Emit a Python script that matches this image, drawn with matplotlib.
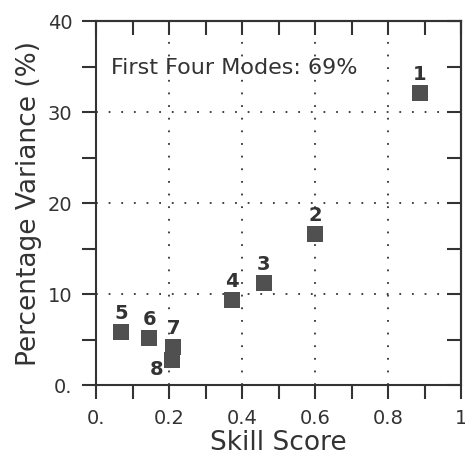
import matplotlib
matplotlib.use("Agg")
import matplotlib.pyplot as plt
from matplotlib.ticker import MultipleLocator

plt.rcParams['font.family'] = ['DejaVu Sans']

# data
skill = [0.888, 0.600, 0.460, 0.372, 0.068, 0.146, 0.212, 0.209]
variance = [32.1, 16.6, 11.2, 9.3, 5.8, 5.2, 4.2, 2.7]
mode_labels = ['1', '2', '3', '4', '5', '6', '7', '8']
x_ticks = [0.0, 0.2, 0.4, 0.6, 0.8, 1.0]
x_ticklabels = ['0.', '0.2', '0.4', '0.6', '0.8', '1']
y_ticks = [0, 10, 20, 30, 40]
y_ticklabels = ['0.', '10', '20', '30', '40']
note = 'First Four Modes: 69%'

ink = '#333333'
fig = plt.figure(figsize=(4.65, 4.57), dpi=100)
ax = fig.add_axes([0.2065, 0.1575, 0.7849, 0.7965])

ax.scatter(skill, variance, marker='s', s=125, color='#505050', zorder=3, linewidths=0)
for x, y, lab in zip(skill, variance, mode_labels):
    if lab == '8':
        ax.annotate(lab, (x, y), xytext=(-11.5, -6.5), textcoords='offset points',
                    ha='center', va='center', fontsize=14, fontweight='bold', color=ink)
    else:
        ax.annotate(lab, (x, y), xytext=(0, 6.5), textcoords='offset points',
                    ha='center', va='bottom', fontsize=14, fontweight='bold', color=ink)

ax.text(0.04, 34.8, note, fontsize=16, color=ink, va='center')

ax.set_xlim(0, 1)
ax.set_ylim(0, 40)
ax.set_xticks(x_ticks)
ax.set_xticklabels(x_ticklabels)
ax.set_yticks(y_ticks)
ax.set_yticklabels(y_ticklabels)
ax.xaxis.set_minor_locator(MultipleLocator(0.1))
ax.yaxis.set_minor_locator(MultipleLocator(5))

for v in [0.2, 0.4, 0.6, 0.8]:
    ax.axvline(v, color=ink, linestyle=(0, (1, 6)), linewidth=1.3, zorder=1)
for v in [10, 20, 30]:
    ax.axhline(v, color=ink, linestyle=(0, (1, 6)), linewidth=1.3, zorder=1)

ax.tick_params(which='both', direction='out', length=10, width=1.5, color=ink,
               labelsize=14, labelcolor=ink, pad=7)
ax2 = ax.secondary_xaxis('top')
ax2.set_xticks([0.1 * i for i in range(11)])
ax2.tick_params(direction='in', length=10, width=1.5, color=ink, labeltop=False)
ax3 = ax.secondary_yaxis('right')
ax3.set_yticks([5 * i for i in range(9)])
ax3.tick_params(direction='in', length=10, width=1.5, color=ink, labelright=False)
for a in (ax, ax2, ax3):
    for s in a.spines.values():
        s.set_linewidth(1.5)
        s.set_color(ink)

ax.set_xlabel('Skill Score', fontsize=19, color=ink, labelpad=2)
ax.set_ylabel('Percentage Variance (%)', fontsize=19, color=ink, labelpad=4)

fig.savefig('out.png', dpi=100)
